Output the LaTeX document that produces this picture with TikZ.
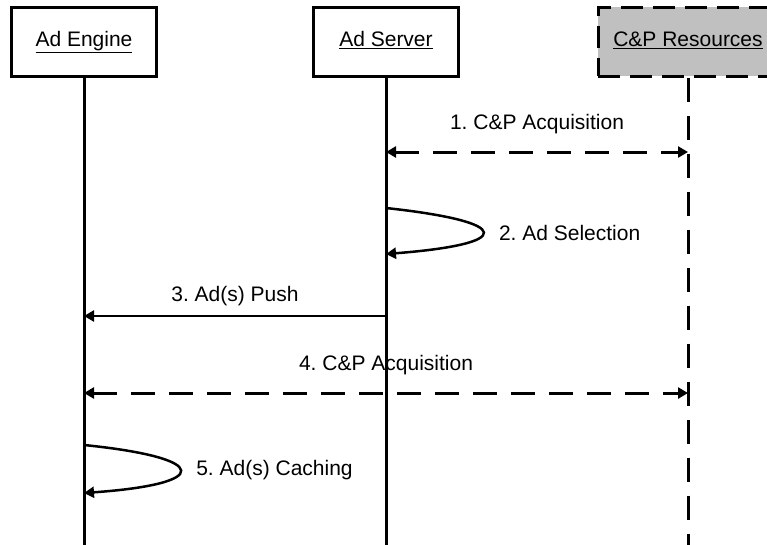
\documentclass[tikz,border=0pt]{standalone}
\usepackage{fontspec}
\setmainfont{Liberation Sans}
\usetikzlibrary{arrows.meta,positioning}
\definecolor{resgray}{RGB}{192,192,192}
\frenchspacing
\tikzset{
  tip/.tip={Triangle[length=10pt,width=11pt]},
  box/.style={draw,line width=3pt,minimum width=145pt,minimum height=69pt,text height=15pt,text depth=4.5pt},
  life/.style={line width=3pt},
  msg/.style={line width=2.5pt,-tip},
  twoway/.style={line width=3pt,tip-tip,dash pattern=on 24pt off 14pt}
}
\begin{document}
\begin{tikzpicture}[x=1pt,y=-1pt,font=\fontsize{21}{25}\selectfont]
      \clip (0,0) rectangle (767,544);
      \node [box] (1) at (84,41.5) {\underline{Ad Engine}};
      \node [box,right=154pt of 1] (2) {\underline{Ad Server}};
      \node [box,right=136.5pt of 2,minimum width=180pt,fill=resgray,dash pattern=on 22pt off 10pt] (3) {\underline{C\&P Resources}};

      \coordinate (1e) at (1.south |- 0,550);
      \coordinate (2e) at (2.south |- 0,550);
      \coordinate (3e) at (3.south |- 0,550);
      \draw[life] (1) -- (1e);
      \draw[life] (2) -- (2e);
      \draw[life,dash pattern=on 24pt off 14pt] (3) -- (3e);

      % messages
      \coordinate (2a) at (2.south |- 0,152);
      \coordinate (3a) at (3.south |- 0,152);
      \draw[twoway] (2a) -- node[above=17pt,inner sep=0] {1. C\&P Acquisition} (3a);

      \coordinate (2b) at (2.south |- 0,208);
      \coordinate (2c) at (2.south |- 0,254);
      \draw[msg] (2b) .. controls +(129,14) and +(129,-10) .. node[right=15pt,inner sep=0] {2. Ad Selection} (2c);

      \coordinate (2d) at (2.south |- 0,316);
      \coordinate (1a) at (1.south |- 0,316);
      \draw[msg] (2d) -- node[above=9pt,inner sep=0] {3. Ad(s) Push} (1a);

      \coordinate (1b) at (1.south |- 0,393);
      \coordinate (3b) at (3.south |- 0,393);
      \draw[twoway] (1b) -- node[above=17pt,inner sep=0] {4. C\&P Acquisition} (3b);

      \coordinate (1c) at (1.south |- 0,445);
      \coordinate (1d) at (1.south |- 0,493);
      \draw[msg] (1c) .. controls +(128,13) and +(128,-9) .. node[right=15pt,inner sep=0] {5. Ad(s) Caching} (1d);
    \end{tikzpicture}
\end{document}
